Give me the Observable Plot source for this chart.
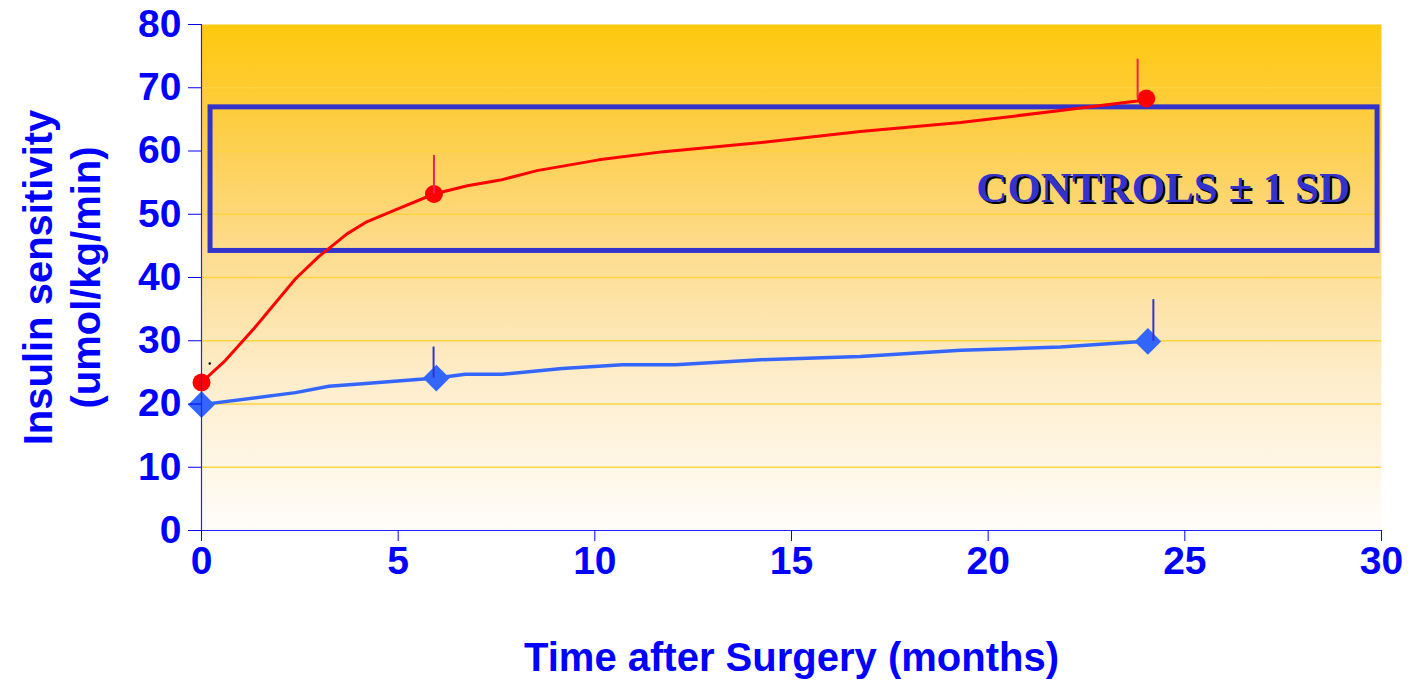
<!DOCTYPE html>
<html><head><meta charset="utf-8">
<script src="https://cdn.jsdelivr.net/npm/d3@7"></script>
<script src="https://cdn.jsdelivr.net/npm/@observablehq/plot@0.6"></script>
<style>body{margin:0;background:#fff}</style>
</head><body><div id="chart"></div>
<script>
// ---- data ----
const xTicks = [0, 5, 10, 15, 20, 25, 30];
const yTicks = [0, 10, 20, 30, 40, 50, 60, 70, 80];
const gridTicks = [10, 20, 30, 40, 50, 60, 70];

const redX = [0, 0.61, 1.33, 2.39, 2.98, 3.70, 4.17, 4.93, 5.91, 6.76, 7.60, 8.53, 10.1, 11.75, 14.30, 16.75, 19.3, 21.84, 23.79, 24.02];
const redY = [23.4, 26.9, 31.9, 39.8, 43.3, 46.9, 48.7, 50.7, 53.2, 54.5, 55.4, 56.9, 58.6, 59.9, 61.4, 63.1, 64.5, 66.4, 67.9, 68.3];
const redMarkX = [0, 5.91, 24.02];
const redMarkY = [23.4, 53.2, 68.3];
const redErrX = [5.91, 23.8];
const redErrLo = [53.2, 68.3];
const redErrHi = [59.3, 74.5];
const redStrayX = [0.21];
const redStrayY = [26.4];

const blueX = [0, 2.39, 3.24, 4.09, 5.97, 6.71, 7.64, 9.17, 10.70, 12.05, 14.21, 16.75, 19.30, 21.84, 23.70, 24.06];
const blueY = [19.9, 21.8, 22.8, 23.2, 24.1, 24.7, 24.7, 25.6, 26.2, 26.2, 27.0, 27.5, 28.5, 29.0, 29.8, 29.9];
const blueMarkX = [0, 5.97, 24.06];
const blueMarkY = [19.9, 24.1, 29.9];
const blueErrX = [5.9, 24.2];
const blueErrLo = [24.1, 29.9];
const blueErrHi = [29.0, 36.5];

const controlsX = [0.23, 29.9];
const controlsY = [44.2, 66.9];
const controlsLabel = "CONTROLS ± 1 SD";
const controlsLabelPos = [24.45, 54.1];

const xTitle = "Time after Surgery (months)";
const yTitle = "Insulin sensitivity\n(umol/kg/min)";

// ---- tables ----
const pts = (xs, ys) => xs.map((x, i) => ({x, y: ys[i]}));
const errs = (xs, lo, hi) => xs.map((x, i) => ({x, lo: lo[i], hi: hi[i]}));
const red = pts(redX, redY), redM = pts(redMarkX, redMarkY), redE = errs(redErrX, redErrLo, redErrHi);
const blue = pts(blueX, blueY), blueM = pts(blueMarkX, blueMarkY), blueE = errs(blueErrX, blueErrLo, blueErrHi);
const box = [{x1: controlsX[0], x2: controlsX[1], y1: controlsY[0], y2: controlsY[1]}];
const lbl = [{x: controlsLabelPos[0], y: controlsLabelPos[1], t: controlsLabel}];

const AX = "#0000FF";
const sans = "'Liberation Sans', Arial, sans-serif";
const serif = "'Liberation Serif', 'Times New Roman', serif";

const chart = Plot.plot({
  width: 1412, height: 682,
  marginLeft: 201, marginRight: 31, marginTop: 24, marginBottom: 152,
  x: {domain: [0, 30]},
  y: {domain: [0, 80]},
  style: {fontFamily: sans, color: AX, background: "#fff", overflow: "visible"},
  marks: [
    Plot.frame({fill: "url(#bgGrad)", stroke: "none"}),
    Plot.ruleY(gridTicks, {stroke: "#FFD23F", strokeWidth: 1.5}),
    Plot.rect(box, {x1: "x1", x2: "x2", y1: "y1", y2: "y2", fill: "none", stroke: "#3333CC", strokeWidth: 5}),
    Plot.text(lbl, {x: "x", y: "y", text: "t", dx: 2, dy: 2, fill: "#000", fontFamily: serif, fontWeight: "bold", fontSize: 43}),
    Plot.text(lbl, {x: "x", y: "y", text: "t", fill: "#3333CC", fontFamily: serif, fontWeight: "bold", fontSize: 43}),
    Plot.line(blue, {x: "x", y: "y", stroke: "#3366FF", strokeWidth: 3.5}),
    Plot.line(red, {x: "x", y: "y", stroke: "#FF0000", strokeWidth: 3}),
    Plot.dot(redM, {x: "x", y: "y", r: 9, fill: "#FF0000", stroke: "none"}),
    Plot.dot(blueM, {x: "x", y: "y", r: 12, symbol: "diamond2", fill: "#3366FF", stroke: "none"}),
    Plot.ruleX(redE, {x: "x", y1: "lo", y2: "hi", stroke: "#F0205A", strokeWidth: 2}),
    Plot.ruleX(blueE, {x: "x", y1: "lo", y2: "hi", stroke: "#3333CC", strokeWidth: 2}),
    Plot.dot(pts(redStrayX, redStrayY), {x: "x", y: "y", r: 1.2, fill: "#000", stroke: "none"}),
    Plot.ruleX([0], {y1: 0, y2: 80, stroke: "#2222FF", strokeWidth: 1.2}),
    Plot.ruleY([0], {x1: 0, x2: 30, stroke: "#2222FF", strokeWidth: 1.2}),
    Plot.axisY({ticks: yTicks, tickSize: 13, tickPadding: 7, fontSize: 39, fontWeight: "bold", label: null}),
    Plot.axisX({ticks: xTicks, tickSize: 11, tickPadding: 5, fontSize: 39, fontWeight: "bold", label: null}),
    Plot.text([yTitle], {text: d => d, frameAnchor: "left", dx: -141, rotate: -90, textAnchor: "middle", lineAnchor: "middle", lineHeight: 1.2, fontSize: 40, fontWeight: "bold", fill: AX}),
    Plot.text([xTitle], {text: d => d, frameAnchor: "bottom", dy: 128, textAnchor: "middle", lineAnchor: "middle", fontSize: 40, fontWeight: "bold", fill: AX})
  ]
});

const defs = d3.select(chart).insert("defs", ":first-child");
const grad = defs.append("linearGradient").attr("id", "bgGrad")
  .attr("x1", 0).attr("y1", 0).attr("x2", 0).attr("y2", 1);
[[0, "#FFC90E"], [0.2, "#FDCD45"], [0.45, "#FDDC8E"], [0.7, "#FEEDCB"], [1, "#FFFDFA"]]
  .forEach(([o, c]) => grad.append("stop").attr("offset", o).attr("stop-color", c));

document.getElementById("chart").appendChild(chart);
</script>
</body></html>
